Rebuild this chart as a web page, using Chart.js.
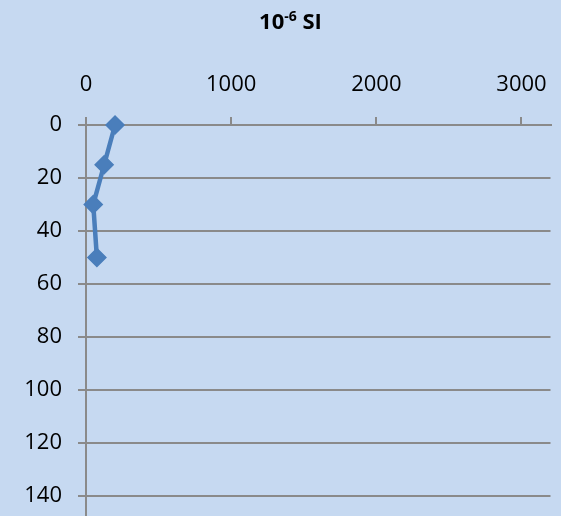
<!DOCTYPE html>
<html>
<head>
<meta charset="utf-8">
<title>Magnetic susceptibility profile</title>
<script src="https://cdn.jsdelivr.net/npm/chart.js@4/dist/chart.umd.min.js"></script>
<style>
  html, body { margin: 0; padding: 0; overflow: hidden; background: #C6D9F1; }
  canvas { display: block; }
</style>
</head>
<body>
<canvas id="chart" width="561" height="560"></canvas>
<script>
// Depth of each sample and its measured susceptibility (10^-6 SI)
const depths = [0, 15, 30, 50];
const susceptibility = [200, 125, 50, 75];

// Axis tick values
const xTicks = [0, 1000, 2000, 3000];
const yTicks = [0, 20, 40, 60, 80, 100, 120, 140, 160];

// Title pieces: base, exponent, unit
const titleBase = '10';
const titleExp = '-6';
const titleUnit = ' SI';

const GRID = '#8a8a8a';
const SERIES = '#4A7EBB';
const TICK_FONT = { family: '"Open Sans", sans-serif', size: 22 };

const points = depths.map((d, i) => ({ x: susceptibility[i], y: d }));

// Paints the background and a title with a raised exponent
const decor = {
  id: 'decor',
  beforeDraw(chart) {
    const ctx = chart.ctx;
    ctx.save();
    ctx.fillStyle = '#C6D9F1';
    ctx.fillRect(0, 0, chart.width, chart.height);
    ctx.restore();
  },
  afterDraw(chart) {
    const ctx = chart.ctx;
    const big = 'bold 22px "Open Sans", sans-serif';
    const small = 'bold 14px "Open Sans", sans-serif';
    ctx.save();
    ctx.fillStyle = '#000';
    ctx.textAlign = 'left';
    ctx.textBaseline = 'alphabetic';
    ctx.font = big;
    const w1 = ctx.measureText(titleBase).width;
    const w3 = ctx.measureText(titleUnit).width;
    ctx.font = small;
    const w2 = ctx.measureText(titleExp).width;
    let x = 290.5 - (w1 + w2 + w3) / 2;
    const base = 28.5;
    ctx.font = big;
    ctx.fillText(titleBase, x, base);
    x += w1;
    ctx.font = small;
    ctx.fillText(titleExp, x, base - 7.5);
    x += w2;
    ctx.font = big;
    ctx.fillText(titleUnit, x, base);
    ctx.restore();
  }
};

// Fixed axis box sizes, no extra room reserved for edge labels
function fitX(s) { s.height = 125; s.paddingLeft = 0; s.paddingRight = 0; }
function fitY(s) { s.width = 86; s.paddingTop = 0; s.paddingBottom = 0; }

new Chart(document.getElementById('chart'), {
  type: 'scatter',
  data: {
    datasets: [{
      data: points,
      showLine: true,
      tension: 0,
      borderColor: SERIES,
      borderWidth: 4.5,
      pointStyle: 'rectRot',
      pointRadius: 9,
      pointHoverRadius: 9,
      pointBackgroundColor: SERIES,
      pointBorderColor: SERIES,
      pointBorderWidth: 1.5,
      clip: false
    }]
  },
  options: {
    responsive: false,
    animation: false,
    devicePixelRatio: 1,
    layout: { padding: { top: 0, left: 0, right: 10, bottom: 11 } },
    plugins: {
      legend: { display: false },
      title: { display: false },
      tooltip: { enabled: false }
    },
    scales: {
      x: {
        type: 'linear',
        position: 'top',
        min: 0,
        max: 3200,
        afterBuildTicks: s => { s.ticks = xTicks.map(v => ({ value: v })); },
        afterFit: fitX,
        ticks: { font: TICK_FONT, color: '#000', padding: 19, maxRotation: 0, callback: v => String(v) },
        grid: {
          display: true,
          drawOnChartArea: false,
          drawTicks: true,
          tickLength: 8,
          tickColor: GRID,
          tickWidth: 2,
          color: GRID,
          lineWidth: 2
        },
        border: { display: true, color: GRID, width: 2 }
      },
      y: {
        type: 'linear',
        position: 'left',
        reverse: true,
        min: 0,
        max: 160,
        afterBuildTicks: s => { s.ticks = yTicks.map(v => ({ value: v })); },
        afterFit: fitY,
        ticks: { font: TICK_FONT, color: '#000', padding: 16, callback: v => String(v) },
        grid: {
          display: true,
          drawOnChartArea: true,
          drawTicks: true,
          tickLength: 8,
          tickColor: GRID,
          tickWidth: 2,
          color: GRID,
          lineWidth: 2
        },
        border: { display: true, color: GRID, width: 2 }
      }
    }
  },
  plugins: [decor]
});
</script>
</body>
</html>
